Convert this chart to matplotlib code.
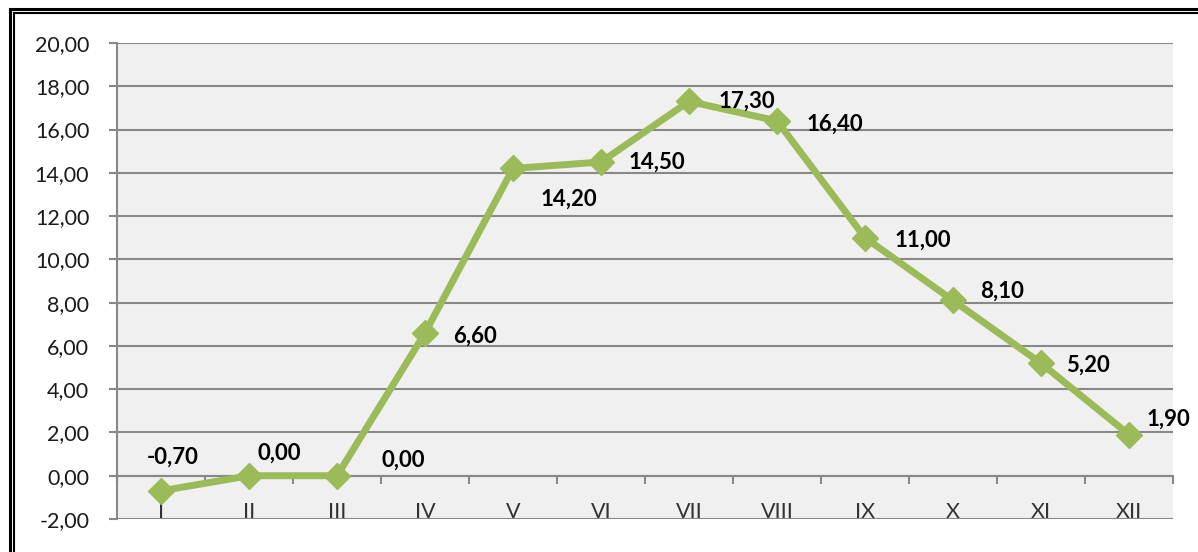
import numpy as np
import matplotlib.pyplot as plt
from matplotlib.lines import Line2D

# データ
months = ['I', 'II', 'III', 'IV', 'V', 'VI', 'VII', 'VIII', 'IX', 'X', 'XI', 'XII']
values = [-0.70, 0.00, 0.00, 6.60, 14.20, 14.50, 17.30, 16.40, 11.00, 8.10, 5.20, 1.90]
yticks = np.arange(-2, 21, 2)

# ラベルの位置 (ピクセル単位のオフセット)
label_dx = [-14, 8, 44, 28, 28, 28, 30, 30, 30, 27, 25, 18]
label_dy = [34, 23, 16, -3, -31, 0, 0, -3, -2, 9, -2, 15]

plt.rcParams['font.family'] = ['Lato', 'DejaVu Sans']

W, H = 1198, 552
fig = plt.figure(figsize=(W / 100, H / 100), dpi=100)
ax = fig.add_axes([117 / W, (H - 519) / H, (1173 - 117) / W, (519 - 43) / H])

grid_c = '#888888'
ax.set_facecolor('#F0F0F0')
x = np.arange(len(months))
ax.plot(x, values, color='#9BBB59', lw=5, marker='D', ms=13, zorder=3)

def fmt(v):
    return f'{v:.2f}'.replace('.', ',')

for i, v in enumerate(values):
    ax.annotate(fmt(v), (x[i], v), xytext=(label_dx[i], label_dy[i]),
                textcoords='offset pixels', ha='left', va='center',
                fontsize=16, fontweight='bold', color='#000000', zorder=4)

ax.set_xlim(-0.5, len(months) - 0.5)
ax.set_ylim(-2, 20)
ax.set_yticks(yticks)
ax.set_yticklabels([fmt(v) for v in yticks])
ax.yaxis.grid(True, color=grid_c, lw=1.5)
ax.set_axisbelow(True)

for s in ['top', 'right']:
    ax.spines[s].set_visible(False)
ax.spines['left'].set_color(grid_c)
ax.spines['left'].set_linewidth(1.5)
ax.spines['bottom'].set_position(('data', 0))
ax.spines['bottom'].set_color(grid_c)
ax.spines['bottom'].set_linewidth(1.5)

ax.set_xticks(np.arange(-0.5, len(months), 1))
ax.set_xticklabels([])
ax.set_xticks(x, minor=True)
ax.set_xticklabels(months, minor=True)
ax.tick_params(axis='x', which='major', direction='out', length=6, width=1.5, color=grid_c)
ax.tick_params(axis='x', which='minor', length=0, pad=19, labelsize=15.5, labelcolor='#333333')
ax.tick_params(axis='y', direction='out', length=6, width=1.5, color=grid_c,
               pad=14, labelsize=15.5, labelcolor='#1a1a1a')

# 枠線
fig.add_artist(Line2D([9.5 / W, 9.5 / W], [0, 1 - 8.5 / H], color='black', lw=2.2))
fig.add_artist(Line2D([9.5 / W, 1], [1 - 8.5 / H, 1 - 8.5 / H], color='black', lw=2.2))
fig.add_artist(Line2D([14 / W, 14 / W], [0, 1 - 12.5 / H], color='black', lw=1.5))
fig.add_artist(Line2D([14 / W, 1], [1 - 12.5 / H, 1 - 12.5 / H], color='black', lw=1.5))

plt.savefig('out.png', dpi=100)
